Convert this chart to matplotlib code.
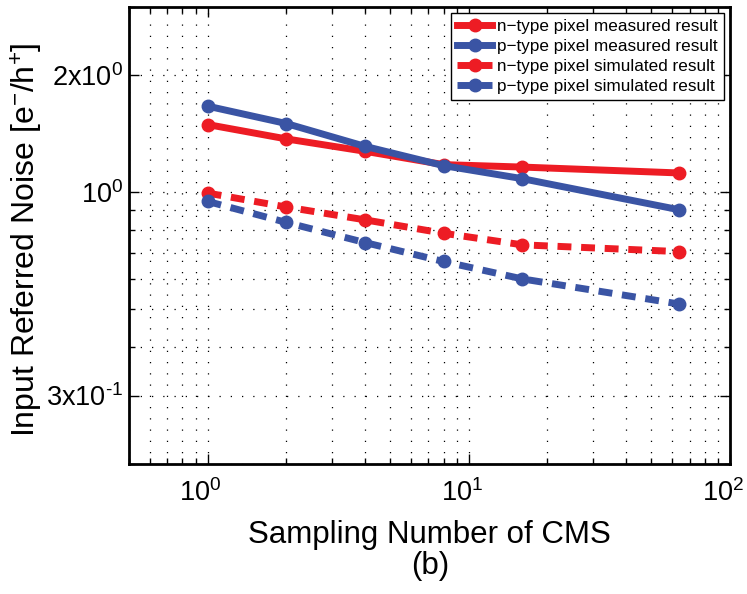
import matplotlib
matplotlib.use('Agg')
import matplotlib.pyplot as plt
import matplotlib.transforms as mtransforms
from matplotlib.ticker import FixedLocator, NullFormatter, FixedFormatter

plt.rcParams['font.family'] = ['Liberation Sans', 'DejaVu Sans']
plt.rcParams['mathtext.fontset'] = 'custom'
plt.rcParams['mathtext.rm'] = 'Liberation Sans'
plt.rcParams['mathtext.it'] = 'Liberation Sans'
plt.rcParams['mathtext.default'] = 'regular'

# sampling numbers
samples = [1, 2, 4, 8, 16, 64]
# noise values
n_measured = [1.495, 1.373, 1.276, 1.179, 1.162, 1.122]
p_measured = [1.667, 1.504, 1.314, 1.172, 1.085, 0.902]
n_simulated = [0.996, 0.917, 0.850, 0.785, 0.733, 0.704]
p_simulated = [0.948, 0.837, 0.743, 0.664, 0.599, 0.516]

y_major = [0.3, 1, 2]
y_major_labels = ['3x10$^{\u20101}$', r'10$^{0}$', r'2x10$^{0}$']
x_major = [1, 10, 100]
x_major_labels = [r'10$^{0}$', r'10$^{1}$', r'10$^{2}$']

red = '#ED1C24'
blue = '#3A54A4'

fig = plt.figure(figsize=(7.47, 5.94), dpi=100)
ax = fig.add_axes([129/747, 1 - 464/594, 601/747, 457/594])

lw = 5
ms = 9
ax.plot(samples, n_measured, '-o', color=red, lw=lw, ms=ms, label='n\u2212type pixel measured result')
ax.plot(samples, p_measured, '-o', color=blue, lw=lw, ms=ms, label='p\u2212type pixel measured result')
ax.plot(samples, n_simulated, 'o', ls=(0, (2, 1.4)), color=red, lw=lw, ms=ms, label='n\u2212type pixel simulated result')
ax.plot(samples, p_simulated, 'o', ls=(0, (2, 1.4)), color=blue, lw=lw, ms=ms, label='p\u2212type pixel simulated result')

ax.set_xscale('log')
ax.set_yscale('log')
ax.set_xlim(0.5, 100)
ax.set_ylim(0.2, 3)

ax.xaxis.set_major_locator(FixedLocator(x_major))
ax.xaxis.set_major_formatter(FixedFormatter(x_major_labels))
x_minor = [0.5, 0.6, 0.7, 0.8, 0.9] + [k for k in range(2, 10)] + [k * 10 for k in range(2, 10)]
ax.xaxis.set_minor_locator(FixedLocator(x_minor))
ax.xaxis.set_minor_formatter(NullFormatter())

ax.yaxis.set_major_locator(FixedLocator(y_major))
ax.yaxis.set_major_formatter(FixedFormatter(y_major_labels))
ax.yaxis.set_minor_locator(FixedLocator([0.2, 0.4, 0.5, 0.6, 0.7, 0.8, 0.9, 3]))
ax.yaxis.set_minor_formatter(NullFormatter())

ax.grid(True, which='both', color='black', ls=(0, (1, 8)), lw=0.9)
ax.tick_params(which='both', direction='in', top=True, right=True, width=1, labelsize=19.5)
ax.tick_params(which='major', length=7)
ax.tick_params(axis='x', which='major', pad=11)
ax.tick_params(axis='y', which='major', pad=4)
ax.tick_params(which='minor', length=4)
for s in ax.spines.values():
    s.set_linewidth(2)

# MATLAB-style: x tick labels sit a little left of their ticks
shift = mtransforms.ScaledTranslation(-7/100, 0, fig.dpi_scale_trans)
for lab in ax.get_xticklabels():
    lab.set_transform(lab.get_transform() + shift)

ax.set_xlabel('Sampling Number of CMS', fontsize=22.5)
ax.set_ylabel(r'Input Referred Noise [e$^{-}$/h$^{+}$]', fontsize=23)
ax.xaxis.set_label_coords(0.5, -0.122)
ax.yaxis.set_label_coords(-0.14, 0.49)

leg = ax.legend(loc='upper right', bbox_to_anchor=(0.99, 0.987), fontsize=12.3,
                frameon=True, fancybox=False, handlelength=2.05, handletextpad=0.3,
                borderpad=0.35, labelspacing=0.3, borderaxespad=0)
leg.get_frame().set_edgecolor('black')
leg.get_frame().set_linewidth(1)
leg.get_frame().set_alpha(1)

fig.text(430/747, 1 - 566/594, '(b)', fontsize=22.5, ha='center', va='center')

fig.savefig('out.png', dpi=100)
